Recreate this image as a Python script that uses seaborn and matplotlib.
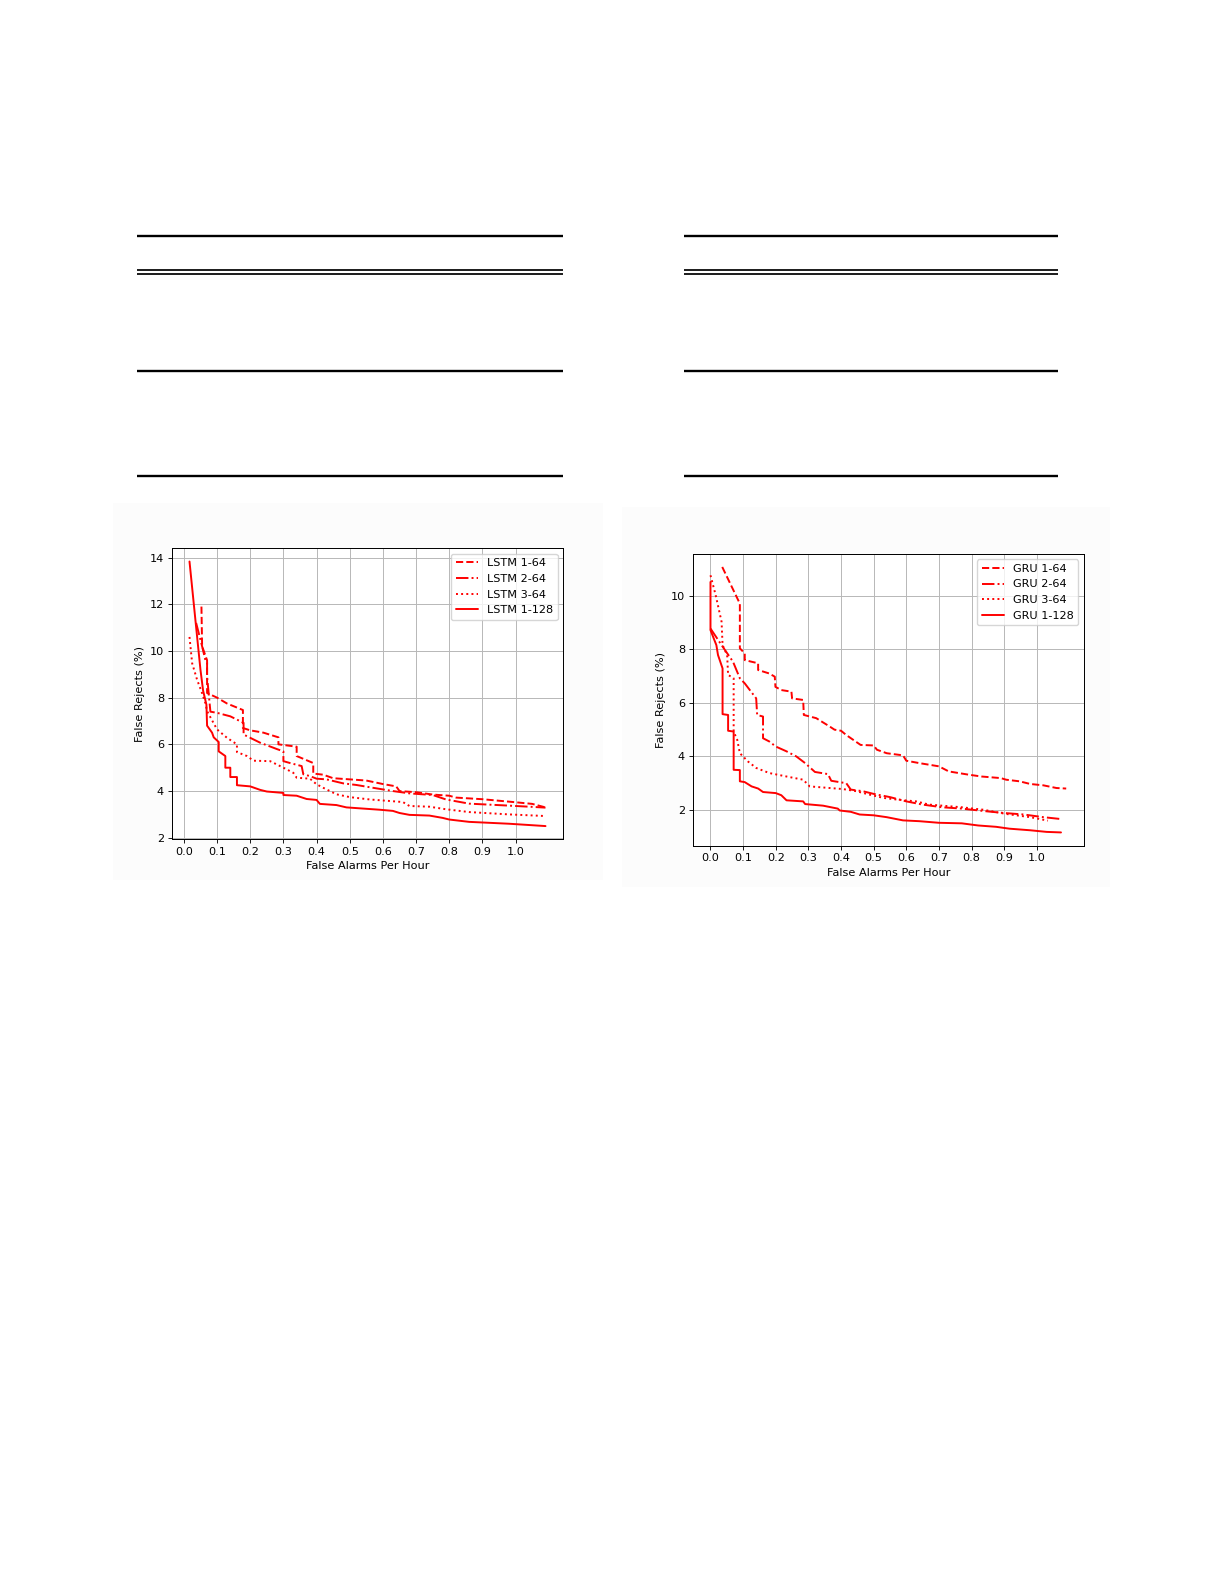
import numpy as np
import pandas as pd
import matplotlib
matplotlib.use("Agg")
import matplotlib.pyplot as plt
from matplotlib.lines import Line2D
from matplotlib.patches import Rectangle
import seaborn as sns

# ---------------- data ----------------
lstm_labels = ["LSTM 1-64", "LSTM 2-64", "LSTM 3-64", "LSTM 1-128"]
gru_labels = ["GRU 1-64", "GRU 2-64", "GRU 3-64", "GRU 1-128"]

lstm164_x = [0.053, 0.055, 0.07, 0.07, 0.10, 0.13, 0.178, 0.178, 0.20, 0.24, 0.285, 0.285, 0.34, 0.34,
             0.39, 0.39, 0.42, 0.45, 0.50, 0.55, 0.60, 0.64, 0.65, 0.70, 0.75, 0.80, 0.82, 0.90, 1.00, 1.05, 1.09]
lstm164_y = [11.9, 10.2, 9.6, 8.2, 8.0, 7.75, 7.47, 6.7, 6.6, 6.5, 6.3, 6.0, 5.9, 5.5,
             5.2, 4.75, 4.7, 4.55, 4.5, 4.45, 4.3, 4.2, 4.0, 3.95, 3.85, 3.8, 3.72, 3.65, 3.52, 3.45, 3.3]

lstm264_x = [0.037, 0.055, 0.065, 0.07, 0.07, 0.08, 0.10, 0.14, 0.18, 0.18, 0.23, 0.28, 0.30, 0.30, 0.32,
             0.355, 0.36, 0.38, 0.40, 0.43, 0.48, 0.52, 0.57, 0.63, 0.68, 0.75, 0.79, 0.86, 0.96, 1.04, 1.09]
lstm264_y = [11.2, 10.2, 9.6, 9.5, 8.9, 7.4, 7.35, 7.2, 6.92, 6.42, 6.07, 5.8, 5.7, 5.28, 5.2,
             5.07, 4.72, 4.64, 4.53, 4.5, 4.33, 4.26, 4.14, 4.0, 3.9, 3.83, 3.64, 3.46, 3.39, 3.33, 3.29]

lstm364_x = [0.017, 0.025, 0.04, 0.055, 0.065, 0.07, 0.10, 0.13, 0.16, 0.16, 0.19, 0.21, 0.26, 0.30, 0.33,
             0.34, 0.38, 0.40, 0.42, 0.46, 0.50, 0.56, 0.66, 0.68, 0.74, 0.79, 0.86, 0.98, 1.09]
lstm364_y = [10.6, 9.47, 8.76, 8.19, 7.76, 7.42, 6.64, 6.28, 6.0, 5.67, 5.5, 5.3, 5.28, 5.0, 4.78,
             4.57, 4.53, 4.29, 4.14, 3.86, 3.74, 3.64, 3.53, 3.36, 3.33, 3.22, 3.1, 3.0, 2.93]

lstm1128_x = [0.017, 0.035, 0.05, 0.058, 0.068, 0.07, 0.08, 0.085, 0.09, 0.105, 0.105, 0.125, 0.125, 0.14,
              0.14, 0.16, 0.16, 0.20, 0.23, 0.25, 0.30, 0.30, 0.34, 0.37, 0.40, 0.41, 0.46, 0.49, 0.54,
              0.59, 0.63, 0.65, 0.68, 0.74, 0.78, 0.80, 0.86, 0.98, 1.09]
lstm1128_y = [13.83, 11.3, 9.2, 8.3, 7.7, 6.8, 6.6, 6.5, 6.3, 6.1, 5.7, 5.5, 5.0, 5.0,
              4.6, 4.6, 4.25, 4.2, 4.05, 3.98, 3.92, 3.83, 3.8, 3.66, 3.62, 3.45, 3.4, 3.3, 3.25,
              3.2, 3.15, 3.06, 2.98, 2.95, 2.85, 2.78, 2.68, 2.6, 2.5]

gru164_x = [0.036, 0.09, 0.09, 0.105, 0.105, 0.146, 0.146, 0.18, 0.197, 0.199, 0.217, 0.248, 0.25, 0.284,
            0.286, 0.324, 0.345, 0.365, 0.38, 0.40, 0.416, 0.46, 0.50, 0.51, 0.54, 0.59, 0.60, 0.64, 0.70,
            0.73, 0.79, 0.83, 0.89, 0.906, 0.947, 0.98, 1.02, 1.06, 1.09]
gru164_y = [11.08, 9.71, 8.04, 7.85, 7.6, 7.48, 7.23, 7.1, 6.98, 6.6, 6.48, 6.42, 6.17, 6.11,
            5.55, 5.43, 5.27, 5.12, 5.0, 4.96, 4.8, 4.43, 4.41, 4.25, 4.12, 4.04, 3.84, 3.75, 3.63,
            3.44, 3.32, 3.25, 3.19, 3.13, 3.07, 2.97, 2.92, 2.82, 2.8]

gru264_x = [0.0, 0.034, 0.069, 0.09, 0.105, 0.14, 0.143, 0.161, 0.161, 0.18, 0.20, 0.233, 0.263, 0.29,
            0.32, 0.36, 0.37, 0.416, 0.43, 0.467, 0.50, 0.55, 0.60, 0.65, 0.71, 0.77, 0.845, 0.896,
            0.96, 1.02, 1.074]
gru264_y = [8.78, 8.16, 7.54, 6.92, 6.73, 6.17, 5.55, 5.49, 4.68, 4.56, 4.37, 4.19, 4.0, 3.75,
            3.42, 3.34, 3.09, 3.0, 2.76, 2.7, 2.6, 2.48, 2.32, 2.2, 2.1, 2.05, 1.95, 1.89,
            1.83, 1.73, 1.66]

gru364_x = [0.0, 0.016, 0.034, 0.037, 0.051, 0.054, 0.064, 0.071, 0.071, 0.082, 0.09, 0.115, 0.14, 0.18,
            0.233, 0.284, 0.304, 0.365, 0.406, 0.447, 0.488, 0.53, 0.57, 0.63, 0.67, 0.77, 0.835, 0.906,
            0.98, 1.034]
gru364_y = [10.77, 10.02, 9.03, 8.16, 7.79, 7.04, 6.98, 6.92, 4.93, 4.62, 4.12, 3.81, 3.57, 3.38,
            3.25, 3.13, 2.88, 2.82, 2.78, 2.7, 2.57, 2.45, 2.39, 2.32, 2.2, 2.1, 2.01, 1.85,
            1.73, 1.6]

gru1128_x = [0.0, 0.0, 0.018, 0.023, 0.037, 0.037, 0.054, 0.054, 0.071, 0.071, 0.09, 0.09, 0.105, 0.126,
             0.146, 0.161, 0.20, 0.217, 0.233, 0.284, 0.29, 0.345, 0.39, 0.396, 0.43, 0.457, 0.50, 0.54,
             0.59, 0.64, 0.70, 0.77, 0.82, 0.875, 0.916, 0.98, 1.03, 1.074]
gru1128_y = [10.52, 8.72, 8.16, 7.79, 7.29, 5.58, 5.55, 4.96, 4.93, 3.5, 3.49, 3.07, 3.04, 2.88,
             2.8, 2.67, 2.63, 2.55, 2.36, 2.32, 2.22, 2.16, 2.05, 1.98, 1.93, 1.83, 1.8, 1.73,
             1.61, 1.58, 1.52, 1.5, 1.42, 1.37, 1.3, 1.24, 1.18, 1.16]

x_ticks = [0.0, 0.1, 0.2, 0.3, 0.4, 0.5, 0.6, 0.7, 0.8, 0.9, 1.0]
lstm_yticks = [2, 4, 6, 8, 10, 12, 14]
gru_yticks = [2, 4, 6, 8, 10]
x_label = "False Alarms Per Hour"
y_label = "False Rejects (%)"

# ---------------- style ----------------
W, H = 1225, 1585
sns.set_theme(style="ticks")
s = 0.79
fs = 8.1
plt.rcParams.update({
    "font.family": ["DejaVu Sans"],
    "font.size": fs,
    "axes.edgecolor": "black",
    "axes.linewidth": 0.9 * s,
    "axes.facecolor": "white",
    "xtick.major.size": 3.5 * s,
    "ytick.major.size": 3.5 * s,
    "xtick.major.width": 0.8 * s,
    "ytick.major.width": 0.8 * s,
    "xtick.major.pad": 3.5 * s,
    "ytick.major.pad": 3.5 * s,
    "xtick.color": "black",
    "ytick.color": "black",
    "xtick.labelsize": fs,
    "ytick.labelsize": fs,
    "axes.labelsize": fs,
    "axes.labelpad": 4 * s,
    "legend.fontsize": fs,
    "grid.color": "#b8b8b8",
    "grid.linewidth": 0.9 * s,
    "text.color": "black",
    "axes.labelcolor": "black",
})

fig = plt.figure(figsize=(W / 100, H / 100), dpi=100)
fig.patch.set_facecolor("white")

# faint background of the embedded plot images
for (x0, y0, x1, y1) in [(113, 503, 603, 880), (622, 507, 1110, 887)]:
    fig.add_artist(Rectangle((x0 / W, 1 - y1 / H), (x1 - x0) / W, (y1 - y0) / H,
                             transform=fig.transFigure, facecolor="#fcfcfc",
                             edgecolor="none", zorder=0))

# table rules
def hrule(x0, x1, y, lw):
    fig.add_artist(Line2D([x0 / W, x1 / W], [1 - y / H, 1 - y / H],
                          transform=fig.transFigure, color="black", linewidth=lw,
                          solid_capstyle="butt"))

for (x0, x1) in [(136.7, 562.7), (684, 1058)]:
    hrule(x0, x1, 235.7, 1.7)
    hrule(x0, x1, 270.2, 1.25)
    hrule(x0, x1, 273.8, 1.25)
    hrule(x0, x1, 370.7, 1.7)
    hrule(x0, x1, 475.7, 1.7)

ax1 = fig.add_axes([171.7 / W, 1 - 839.3 / H, 391.6 / W, 291.0 / H])
ax2 = fig.add_axes([692.7 / W, 1 - 845.7 / H, 391.3 / W, 292.0 / H])

styles = ["--", "-.", ":", "-"]
lstm_series = [(lstm164_x, lstm164_y), (lstm264_x, lstm264_y), (lstm364_x, lstm364_y), (lstm1128_x, lstm1128_y)]
gru_series = [(gru164_x, gru164_y), (gru264_x, gru264_y), (gru364_x, gru364_y), (gru1128_x, gru1128_y)]

for ax, series, labels, yt in [(ax1, lstm_series, lstm_labels, lstm_yticks),
                               (ax2, gru_series, gru_labels, gru_yticks)]:
    for (xs, ys), lab, ls in zip(series, labels, styles):
        df = pd.DataFrame({"x": xs, "y": ys})
        sns.lineplot(data=df, x="x", y="y", ax=ax, sort=False, estimator=None,
                     color="red", linestyle=ls, linewidth=1.4, label=lab)
    ax.set_xticks(x_ticks)
    ax.set_yticks(yt)
    ax.grid(True)
    ax.set_axisbelow(True)
    ax.set_xlabel(x_label)
    ax.set_ylabel(y_label)
    ax.margins(0.05)
    for sp in ax.spines.values():
        sp.set_visible(True)
        sp.set_color("black")
    leg = ax.legend(loc="upper right", frameon=True, fancybox=True, framealpha=0.8,
                    edgecolor="#cccccc", borderpad=0.4, labelspacing=0.5,
                    handlelength=2.0, handletextpad=0.8, borderaxespad=0.5)

fig.savefig("out.png", dpi=100, facecolor="white")
